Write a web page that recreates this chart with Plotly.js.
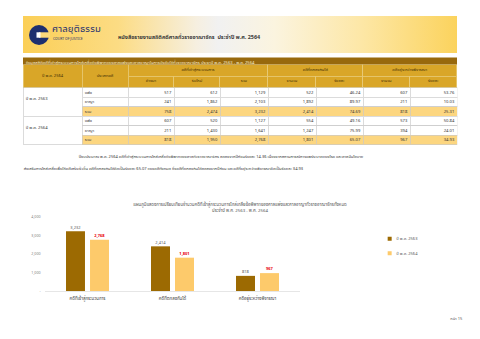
<!DOCTYPE html>
<html><head><meta charset="utf-8">
<script src="https://cdn.plot.ly/plotly-3.0.1.min.js"></script>
<style>
html,body{margin:0;padding:0;width:480px;height:339px;overflow:hidden;background:#fff;}
#page{position:relative;width:480px;height:339px;overflow:hidden;background:#fff;}
#plot{position:absolute;left:0;top:0;width:1440px;height:1017px;transform-origin:0 0;}
#banner{position:absolute;left:23px;top:16px;width:434px;height:37px;z-index:2;
 background:linear-gradient(90deg,#fbcf57 0%,#fcdc84 22%,#f6efe0 40%,#f1f1f1 45%,#fbf4df 58%,#fde7a6 78%,#fbd35d 100%);
 font-family:'Noto Sans Thai','Noto Serif Thai','Noto Sans',sans-serif;}
#logo{position:absolute;left:5px;top:8px;}
#brand1{position:absolute;left:29px;top:8px;font-size:9.5px;color:#1d2f6f;letter-spacing:0.2px;line-height:11px;}
#brand2{position:absolute;left:30px;top:21px;font-size:3.4px;color:#1d2f6f;line-height:4px;}
#btitle{position:absolute;left:95px;top:18px;font-size:5.4px;font-weight:bold;color:#3a3a3a;line-height:6px;white-space:nowrap;}
</style></head>
<body><div id="page">
<div id="plot"></div>
<div id="banner">
 <svg id="logo" width="22" height="22" viewBox="0 0 22 22"><circle cx="11" cy="11" r="10" fill="#1d2f6f"/><rect x="11" y="8.3" width="11" height="5.4" fill="#fcd87a"/><rect x="8.5" y="8.3" width="4" height="5.4" fill="#ffffff"/></svg>
 <div id="brand1">ศาลยุติธรรม</div>
 <div id="brand2">COURT OF JUSTICE</div>
 <div id="btitle">หนังสือรายงานสถิติคดีศาลทั่วราชอาณาจักร&nbsp; ประจำปี พ.ศ. 2564</div>
</div>
</div>
<script>
// ---------- data ----------
const tableTitle = 'ข้อมูลสถิติคดีที่เข้าสู่กระบวนการไกล่เกลี่ยข้อพิพาทของศาลแพ่งและศาลอาญาในการบังคับใช้ทั่วราชอาณาจักร ประจำปี พ.ศ. 2563 - พ.ศ. 2564';
const yearHeader = 'ปี พ.ศ. 2564';
const typeHeader = 'ประเภทคดี';
const groupHeaders = ['คดีที่เข้าสู่กระบวนการ', 'คดีที่ตกลงกันได้', 'คดีอยู่ระหว่างพิจารณา'];
const subHeaders = ['ค้างมา', 'รับใหม่', 'รวม', 'จำนวน', 'ร้อยละ', 'จำนวน', 'ร้อยละ'];
const years = ['ปี พ.ศ. 2563', 'ปี พ.ศ. 2564'];
const caseTypes = ['แพ่ง', 'อาญา', 'รวม'];
const carried = [517, 241, 758, 607, 211, 818];
const newCases = [612, 1862, 2474, 520, 1430, 1950];
const totalCases = [1129, 2103, 3232, 1127, 1641, 2768];
const settled = [522, 1892, 2414, 554, 1247, 1801];
const settledPct = [46.24, 89.97, 74.69, 49.16, 75.99, 65.07];
const pending = [607, 211, 818, 573, 394, 967];
const pendingPct = [53.76, 10.03, 25.31, 50.84, 24.01, 34.93];

const chartTitle = 'แผนภูมิแสดงการเปรียบเทียบจำนวนคดีที่เข้าสู่กระบวนการไกล่เกลี่ยข้อพิพาทของศาลแพ่งและศาลอาญาทั่วราชอาณาจักรทั้งหมด<br>ประจำปี พ.ศ. 2563 - พ.ศ. 2564';
const chartCategories = ['คดีที่เข้าสู่กระบวนการ', 'คดีที่ตกลงกันได้', 'คดีอยู่ระหว่างพิจารณา'];
const seriesNames = ['ปี พ.ศ. 2563', 'ปี พ.ศ. 2564'];
const series2563 = [3232, 2414, 818];
const series2564 = [2768, 1801, 967];
const yTickVals = [0, 1000, 2000, 3000, 4000];
const yTickText = ['-', '1,000', '2,000', '3,000', '4,000'];

const paragraph1 = 'ปีงบประมาณ พ.ศ. 2564 คดีที่เข้าสู่กระบวนการไกล่เกลี่ยข้อพิพาทของศาลทั่วราชอาณาจักร ลดลงจากปีก่อนร้อยละ 14.36 เนื่องจากสถานการณ์การแพร่ระบาดของโรค และศาลมีนโยบาย';
const paragraph2 = 'ส่งเสริมการไกล่เกลี่ยเพื่อให้คดีเสร็จเร็วขึ้น คดีที่ตกลงกันได้คิดเป็นร้อยละ 65.07 ของคดีทั้งหมด ซึ่งคดีที่ตกลงกันได้ลดลงจากปีก่อน และคดีที่อยู่ระหว่างพิจารณาคิดเป็นร้อยละ 34.93';
const pageLabel = 'หน้า 15';

// ---------- helpers ----------
const W = 480, H = 339, S = 3;
const FONT = "'Noto Sans Thai','Noto Serif Thai','Noto Sans',sans-serif";
const nb = s => s.replace(/ /g, '\u00a0');
const pad = s => '<span style="color:rgba(0,0,0,0)">.</span><br>' + s;  // invisible spacer line for vertical centring
const fmtInt = v => v.toLocaleString('en-US');
const fmtPct = v => v.toFixed(2);
function dom(x0, x1, y0, y1) { return {x: [x0 / W, x1 / W], y: [1 - y1 / H, 1 - (y0 - 0.5) / H]}; }
function tbl(x0, x1, y0, y1, widths, values, rowH, fill, lineColor, font, align) {
  return {
    type: 'table', domain: dom(x0, x1, y0, y1), columnwidth: widths,
    header: {values: [''], height: 1, fill: {color: 'rgba(0,0,0,0)'}, line: {width: 0, color: 'rgba(0,0,0,0)'}},
    cells: {values: values, height: rowH, fill: {color: fill}, line: {color: lineColor, width: 2}, font: font, align: align}
  };
}

const GOLD = '#d9a628', DARK = '#98690d', TOTAL = '#fcd680', GRID = '#c9c9c9';
const hdrFont = {family: FONT, size: 12, color: '#3b2a05'};
const bodyFont = {family: FONT, size: 12.5, color: '#333333'};

const typeCol = years.flatMap(() => caseTypes.slice());
const rowFill = typeCol.map(t => t === 'รวม' ? TOTAL : '#ffffff');

const traces = [
  tbl(23, 457, 58, 65, [1], [[nb(tableTitle)]], 7 * S, [[DARK]], DARK, {family: FONT, size: 12.5, color: '#fff3d2'}, 'left'),
  tbl(23, 128, 65, 88, [59, 46], [[pad(yearHeader)], [pad(typeHeader)]], 23 * S, [[GOLD]], '#ecd38a', hdrFont, 'center'),
  tbl(128, 457, 65, 76.5, [140, 95, 94], groupHeaders.map(h => [h]), 11.5 * S, [[GOLD]], '#ecd38a', hdrFont, 'center'),
  tbl(128, 457, 76.5, 88, [46, 46, 48, 48, 47, 47, 47], subHeaders.map(h => [h]), 11.5 * S, [[GOLD]], '#ecd38a', hdrFont, 'center'),
  tbl(23, 82, 88, 145.5, [1], [years.map(pad)], 28.5 * S, [['#ffffff']], GRID, bodyFont, 'left'),
  tbl(82, 457, 88, 145.5, [46, 46, 46, 48, 48, 47, 47, 47],
      [typeCol, carried.map(fmtInt), newCases.map(fmtInt), totalCases.map(fmtInt),
       settled.map(fmtInt), settledPct.map(fmtPct), pending.map(fmtInt), pendingPct.map(fmtPct)],
      9.5 * S, [rowFill], GRID, bodyFont, ['left', 'right', 'right', 'right', 'right', 'right', 'right', 'right']),
  {type: 'bar', name: seriesNames[0], x: chartCategories, y: series2563, marker: {color: '#9c6a02'},
   texttemplate: '%{y:,}', textposition: 'outside', cliponaxis: false,
   textfont: {family: FONT, size: 12, color: '#595959'}, legendgroup: 'a', hoverinfo: 'skip'},
  {type: 'bar', name: seriesNames[1], x: chartCategories, y: series2564, marker: {color: '#fdca6b'},
   texttemplate: '<b>%{y:,}</b>', textposition: 'outside', cliponaxis: false,
   textfont: {family: FONT, size: 12, color: '#e8000b'}, legendgroup: 'b', hoverinfo: 'skip'}
];

const layout = {
  width: W * S, height: H * S, margin: {l: 0, r: 0, t: 0, b: 0},
  paper_bgcolor: 'rgba(0,0,0,0)', plot_bgcolor: 'rgba(0,0,0,0)',
  font: {family: FONT, size: 13, color: '#333'},
  barmode: 'group', bargap: 0.435, bargroupgap: 0.21,
  title: {text: chartTitle, x: 240 / W, xanchor: 'center', y: 1 - 206 / H, yanchor: 'middle',
          font: {family: FONT, size: 13, color: '#555555'}},
  xaxis: {domain: [45 / W, 300 / W], anchor: 'y', type: 'category', showline: true, linecolor: '#d9d9d9', linewidth: 2,
          ticks: '', showgrid: false, zeroline: false, tickfont: {family: FONT, size: 13, color: '#404040'}, ticklabelstandoff: 8},
  yaxis: {domain: [1 - 291 / H, 1 - 217 / H], anchor: 'x', range: [0, 4000], tickmode: 'array', tickvals: yTickVals, ticktext: yTickText,
          showgrid: false, zeroline: false, showline: false, ticks: '', tickfont: {family: FONT, size: 11, color: '#808080'}, ticklabelstandoff: 12},
  showlegend: true,
  legend: {x: 383 / W, y: 1 - 234 / H, xanchor: 'left', yanchor: 'top', traceorder: 'grouped', tracegroupgap: 24,
           font: {family: FONT, size: 12, color: '#595959'}, bgcolor: 'rgba(0,0,0,0)', itemwidth: 30},
  annotations: [
    {text: paragraph1, x: 78 / W, y: 1 - 157 / H, xref: 'paper', yref: 'paper', xanchor: 'left', yanchor: 'middle', showarrow: false,
     font: {family: FONT, size: 12, color: '#333'}},
    {text: paragraph2, x: 23 / W, y: 1 - 169 / H, xref: 'paper', yref: 'paper', xanchor: 'left', yanchor: 'middle', showarrow: false,
     font: {family: FONT, size: 12, color: '#333'}},
    {text: pageLabel, x: 463 / W, y: 1 - 319 / H, xref: 'paper', yref: 'paper', xanchor: 'right', yanchor: 'middle', showarrow: false,
     font: {family: FONT, size: 12, color: '#555'}}
  ]
};

Plotly.newPlot('plot', traces, layout, {displayModeBar: false, staticPlot: true}).then(function () {
  document.getElementById('plot').style.transform = 'scale(' + (1 / S) + ')';
});
</script>
</body></html>
